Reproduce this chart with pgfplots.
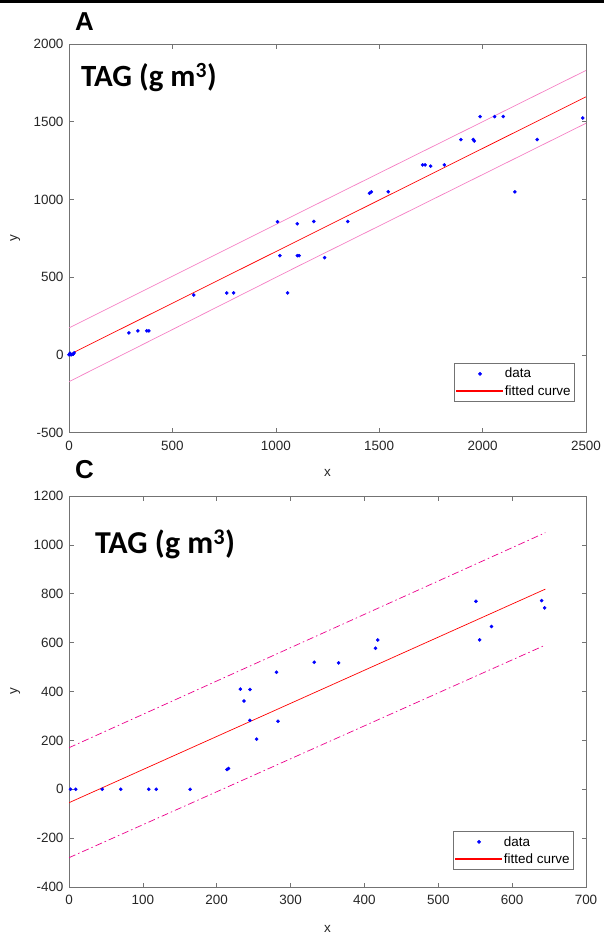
\documentclass[border=0pt]{standalone}
\usepackage{pgfplots}
\pgfplotsset{compat=1.18}
\usepackage{fontspec}
\setmainfont{Liberation Sans}
\newfontfamily\titlefont{Carlito}
\definecolor{fitred}{RGB}{255,0,0}
\definecolor{datablue}{RGB}{0,0,255}

\pgfplotsset{
  panel/.style={
    scale only axis,
    width=517bp,
    axis line style={black!55, line width=0.6bp},
    every tick/.style={black!55, line width=0.6bp},
    major tick length=4.5bp,
    tick align=inside,
    tick label style={font=\fontsize{13.5}{15}\selectfont, text=black!85},
    xticklabel style={yshift=-5bp},
    yticklabel style={xshift=-2bp},
    label style={font=\fontsize{13.5}{15}\selectfont, text=black!85},
    /pgf/number format/assume math mode=true,
    /pgf/number format/1000 sep={},
    legend cell align=left,
    legend style={at={(1,0)}, anchor=south east, draw=black!55, line width=0.6bp,
      font=\fontsize{13.5}{15}\selectfont, inner xsep=2bp, inner ysep=3bp,
      row sep=2bp},
  },
  dataplot/.style={only marks, mark=*, mark size=1.6bp, color=datablue,
    legend image code/.code={\fill[datablue] (23.5bp,0) circle (1.6bp);}},
  fitplot/.style={color=fitred, line width=0.7bp,
    legend image code/.code={\fill[fitred] (0bp,-0.4bp) rectangle (46bp,0.4bp);}},
}

\begin{document}
\begin{tikzpicture}
\path[use as bounding box] (0bp,0bp) rectangle (604bp,-935bp);
\fill[black] (0bp,0bp) rectangle (604bp,-2.5bp);

% ---------- panel A ----------
\begin{axis}[panel,
    at={(69bp,-432.5bp)}, anchor=south west,
    height=388.5bp,
    xmin=0, xmax=2500, ymin=-500, ymax=2000,
    xtick={0,500,1000,1500,2000,2500},
    ytick={-500,0,500,1000,1500,2000},
    xlabel={x}, ylabel={y},
    xlabel style={at={(axis description cs:0.5,-0.104)}, anchor=center},
    ylabel style={at={(axis description cs:-0.104,0.5)}, anchor=center},
    legend style={xshift=-11bp, yshift=30.5bp},
  ]
  \addplot[magenta!50, line width=0.7bp, forget plot] coordinates {(0,173) (1100,905) (2500,1830)};
  \addplot[magenta!50, line width=0.7bp, forget plot] coordinates {(0,-173) (1100,565) (2500,1490)};
  \addplot[dataplot] coordinates {
    (0,0) (5,10) (10,0) (20,5) (25,12)
    (290,141) (333,154) (376,154) (386,154) (603,385) (763,398) (796,398)
    (1008,856) (1020,638) (1057,398) (1104,843) (1104,638) (1113,638)
    (1184,858) (1236,625) (1348,858) (1453,1040) (1462,1049) (1544,1049)
    (1710,1222) (1722,1222) (1749,1214) (1815,1222) (1895,1385) (1955,1385)
    (1960,1376) (1988,1533) (2058,1533) (2100,1533) (2156,1049) (2264,1385)
    (2484,1524)
  };
  \addlegendentry{data}
  \addplot[fitplot] coordinates {(0,0) (2500,1660)};
  \addlegendentry{fitted curve}
\end{axis}

% ---------- panel C ----------
\begin{axis}[panel,
    at={(69bp,-887bp)}, anchor=south west,
    height=391bp,
    xmin=0, xmax=700, ymin=-400, ymax=1200,
    xtick={0,100,200,300,400,500,600,700},
    ytick={-400,-200,0,200,400,600,800,1000,1200},
    xlabel={x}, ylabel={y},
    xlabel style={at={(axis description cs:0.5,-0.107)}, anchor=center},
    ylabel style={at={(axis description cs:-0.104,0.5)}, anchor=center},
    legend style={xshift=-12bp, yshift=17bp},
  ]
  \addplot[magenta, line width=0.7bp, dash pattern=on 7bp off 3bp on 1.5bp off 3bp, forget plot]
    coordinates {(0,170) (645,1050)};
  \addplot[magenta, line width=0.7bp, dash pattern=on 7bp off 3bp on 1.5bp off 3bp, forget plot]
    coordinates {(0,-280) (645,590)};
  \addplot[dataplot] coordinates {
    (2,0) (9,0) (45,0) (70,0) (108,0) (118,0) (164,0)
    (214,81) (216,85) (232,410) (237,361) (245,408) (245,282) (254,205)
    (281,479) (283,278) (332,520) (365,517) (415,577) (418,611)
    (551,769) (556,611) (572,666) (640,772) (644,742)
  };
  \addlegendentry{data}
  \addplot[fitplot] coordinates {(0,-55) (645,819)};
  \addlegendentry{fitted curve}
\end{axis}

% ---------- titles and panel letters ----------
\node[anchor=base west, inner sep=0, font=\titlefont\bfseries\fontsize{31}{33}\selectfont]
  at (81bp,-86bp) {TAG (g m\textsuperscript{3})};
\node[anchor=base west, inner sep=0, font=\titlefont\bfseries\fontsize{32}{34}\selectfont]
  at (95bp,-553bp) {TAG (g m\textsuperscript{3})};
\node[anchor=base west, inner sep=0, font=\bfseries\fontsize{26}{28}\selectfont]
  at (75bp,-30bp) {A};
\node[anchor=base west, inner sep=0, font=\bfseries\fontsize{26}{28}\selectfont]
  at (75bp,-478bp) {C};
\end{tikzpicture}
\end{document}
